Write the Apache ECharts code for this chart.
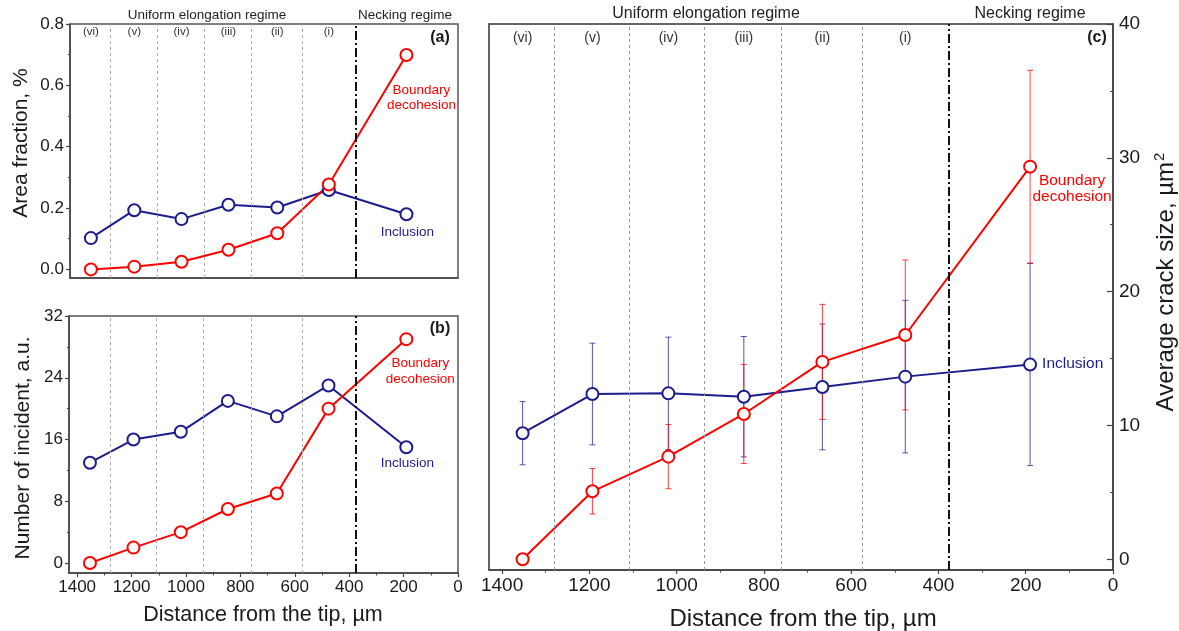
<!DOCTYPE html>
<html>
<head>
<meta charset="utf-8">
<script src="https://cdn.jsdelivr.net/npm/echarts@6/dist/echarts.min.js"></script>
<style>
  html, body { margin: 0; padding: 0; background: #fff; }
  #chart { width: 1179px; height: 631px; }
</style>
</head>
<body>
<div id="chart"></div>
<script>
// Distance from the crack tip (µm) of each sampled zone, (vi) ... (i), then the necking zone
const distance = [1353, 1193, 1019, 846, 666, 476, 190];
const zoneLabels = ['(vi)', '(v)', '(iv)', '(iii)', '(ii)', '(i)'];
const zoneBounds = [1280, 1108, 937, 761, 574];
const neckingBound = 377;

// (a) area fraction, %
const areaInclusion = [0.102, 0.193, 0.164, 0.211, 0.202, 0.259, 0.180];
const areaBoundary  = [0.000, 0.009, 0.025, 0.064, 0.118, 0.277, 0.699];

// (b) number of incidents, a.u.
const countInclusion = [13, 16, 17, 21, 19, 23, 15];
const countBoundary  = [0, 2, 4, 7, 9, 20, 29];

// (c) average crack size, µm², with its spread
const sizeInclusion    = [9.42, 12.35, 12.40, 12.15, 12.88, 13.65, 14.55];
const sizeInclusionErr = [2.36, 3.80, 4.20, 4.50, 4.70, 5.70, 7.55];
const sizeBoundary     = [0.00, 5.08, 7.67, 10.86, 14.75, 16.76, 29.34];
const sizeBoundaryErr  = [0.00, 1.70, 2.40, 3.70, 4.30, 5.60, 7.20];

// Tick values
const xTicks = [0, 200, 400, 600, 800, 1000, 1200, 1400];
const xMinorTicks = [100, 300, 500, 700, 900, 1100, 1300];
const areaTicks = [0, 0.2, 0.4, 0.6, 0.8];
const areaMinorTicks = [0.1, 0.3, 0.5, 0.7];
const countTicks = [0, 8, 16, 24, 32];
const countMinorTicks = [4, 12, 20, 28];
const sizeTicks = [0, 10, 20, 30, 40];
const sizeMinorTicks = [5, 15, 25, 35];

const FONT = '"Liberation Sans", Arial, Helvetica, sans-serif';
const RED = '#ff0000';
const BLUE = '#1c1c8c';
const AXIS = '#444';
const INK = '#1a1a1a';

const chart = echarts.init(document.getElementById('chart'), null, { renderer: 'canvas' });

function xAxes(gridIndex, withTicks, fontSize) {
  const base = {
    type: 'value', gridIndex, min: 0, max: 1430, inverse: true, position: 'bottom',
    splitLine: { show: false }
  };
  return [
    Object.assign({}, base, {
      axisLine: { show: true, onZero: false, lineStyle: { color: AXIS, width: 1.5 } },
      axisTick: { show: withTicks, customValues: xTicks, length: 4, lineStyle: { color: AXIS, width: 1.2 } },
      axisLabel: {
        show: withTicks, customValues: xTicks, margin: 6, fontSize, color: INK, fontFamily: FONT,
        formatter: v => String(v)
      }
    }),
    Object.assign({}, base, {
      axisLine: { show: false, onZero: false },
      axisTick: { show: withTicks, customValues: xMinorTicks, length: 2.5, lineStyle: { color: AXIS, width: 1 } },
      axisLabel: { show: false }
    })
  ];
}

function yAxes(gridIndex, min, max, ticks, minor, opts) {
  const base = {
    type: 'value', gridIndex, min, max, position: opts.position,
    splitLine: { show: false }
  };
  return [
    Object.assign({}, base, {
      axisLine: { show: true, onZero: false, lineStyle: { color: AXIS, width: 1.5 } },
      axisTick: { show: true, inside: opts.inside, customValues: ticks, length: opts.tickLen, lineStyle: { color: AXIS, width: 1.2 } },
      axisLabel: {
        show: true, customValues: ticks, margin: opts.margin, fontSize: opts.fontSize,
        color: INK, fontFamily: FONT, formatter: opts.formatter
      }
    }),
    Object.assign({}, base, {
      axisLine: { show: false, onZero: false },
      axisTick: { show: true, inside: opts.inside, customValues: minor, length: opts.tickLen / 2, lineStyle: { color: AXIS, width: 1 } },
      axisLabel: { show: false }
    })
  ];
}

function zoneLines(thin) {
  return {
    silent: true, animation: false, symbol: ['none', 'none'], label: { show: false },
    emphasis: { disabled: true },
    data: zoneBounds.map(v => ({ xAxis: v, lineStyle: { type: [3, 3], color: thin, width: 1 } }))
      .concat([{ xAxis: neckingBound, lineStyle: { type: [9, 3, 2, 3], color: '#111', width: 2 } }])
  };
}

function pairs(values) {
  return distance.map((d, i) => [d, values[i]]);
}

function withEndLabel(data, label) {
  const out = data.slice();
  const last = out.length - 1;
  out[last] = { value: out[last], label: Object.assign({ show: true, position: 'inside', fontFamily: FONT }, label) };
  return out;
}

function lineSeries(name, color, xi, yi, data, extra) {
  return Object.assign({
    name, type: 'line', xAxisIndex: xi, yAxisIndex: yi, data,
    symbol: 'emptyCircle', symbolSize: 12, showSymbol: true, z: 3,
    lineStyle: { color, width: 2 },
    itemStyle: { color, borderColor: color, borderWidth: 1.8 },
    emphasis: { disabled: true }
  }, extra || {});
}

function errorBars(color, xi, yi, values, errs) {
  return {
    type: 'custom', xAxisIndex: xi, yAxisIndex: yi, z: 2, silent: true,
    data: distance.map((d, i) => [d, values[i] - errs[i], values[i] + errs[i], errs[i]]),
    encode: { x: 0, y: [1, 2] },
    renderItem(params, api) {
      if (api.value(3) === 0) return null;
      const top = api.coord([api.value(0), api.value(2)]);
      const bot = api.coord([api.value(0), api.value(1)]);
      const w = 3;
      const style = { stroke: color, lineWidth: 1, opacity: 0.75 };
      return {
        type: 'group',
        children: [
          { type: 'line', shape: { x1: top[0], y1: top[1], x2: bot[0], y2: bot[1] }, style },
          { type: 'line', shape: { x1: top[0] - w, y1: top[1], x2: top[0] + w, y2: top[1] }, style },
          { type: 'line', shape: { x1: bot[0] - w, y1: bot[1], x2: bot[0] + w, y2: bot[1] }, style }
        ]
      };
    }
  };
}

const gridStyle = { show: true, borderColor: '#555', borderWidth: 1.5, backgroundColor: 'transparent' };

const option = {
  animation: false,
  backgroundColor: '#fff',
  grid: [
    Object.assign({ left: 70, top: 24, width: 388, height: 254 }, gridStyle),
    Object.assign({ left: 69, top: 316, width: 389, height: 257 }, gridStyle),
    Object.assign({ left: 489, top: 24, width: 624, height: 546 }, gridStyle, { borderColor: '#333' })
  ],
  xAxis: [].concat(
    xAxes(0, false, 17),
    xAxes(1, true, 17),
    xAxes(2, true, 19)
  ),
  yAxis: [].concat(
    yAxes(0, -0.028, 0.8, areaTicks, areaMinorTicks,
      { position: 'left', inside: false, tickLen: 4, margin: 6, fontSize: 17, formatter: v => v.toFixed(1) }),
    yAxes(1, -1.29, 32, countTicks, countMinorTicks,
      { position: 'left', inside: false, tickLen: 4, margin: 6, fontSize: 17, formatter: v => String(v) }),
    yAxes(2, -0.8, 40, sizeTicks, sizeMinorTicks,
      { position: 'right', inside: true, tickLen: 6, margin: 6, fontSize: 19, formatter: v => String(v) })
  ),
  series: [
    // (a)
    lineSeries('Inclusion', BLUE, 0, 0,
      withEndLabel(pairs(areaInclusion), { formatter: 'Inclusion', color: BLUE, fontSize: 13.5, offset: [1, 18] }),
      { markLine: zoneLines('#aaa') }),
    lineSeries('Boundary decohesion', RED, 0, 0,
      withEndLabel(pairs(areaBoundary), { formatter: 'Boundary\ndecohesion', color: RED, fontSize: 13.5, lineHeight: 15, align: 'center', offset: [15, 43] })),
    // (b)
    lineSeries('Inclusion', BLUE, 2, 2,
      withEndLabel(pairs(countInclusion), { formatter: 'Inclusion', color: BLUE, fontSize: 13.5, offset: [1, 16] }),
      { markLine: zoneLines('#aaa') }),
    lineSeries('Boundary decohesion', RED, 2, 2,
      withEndLabel(pairs(countBoundary), { formatter: 'Boundary\ndecohesion', color: RED, fontSize: 13.5, lineHeight: 16, align: 'center', offset: [14, 32] })),
    // (c)
    errorBars(BLUE, 4, 4, sizeInclusion, sizeInclusionErr),
    errorBars(RED, 4, 4, sizeBoundary, sizeBoundaryErr),
    lineSeries('Inclusion', BLUE, 4, 4,
      withEndLabel(pairs(sizeInclusion), { formatter: 'Inclusion', color: BLUE, fontSize: 15.5, align: 'left', offset: [12, -1] }),
      { markLine: zoneLines('#999') }),
    lineSeries('Boundary decohesion', RED, 4, 4,
      withEndLabel(pairs(sizeBoundary), { formatter: 'Boundary\ndecohesion', color: RED, fontSize: 15.5, lineHeight: 16, align: 'center', offset: [42, 22] }))
  ]
};

chart.setOption(option);

// Text placed around the panels
function text(str, x, y, size, extra) {
  return {
    type: 'text', x, y, silent: true,
    style: Object.assign({
      text: str, fontSize: size, fontFamily: FONT, fill: INK,
      align: 'center', verticalAlign: 'middle'
    }, extra || {})
  };
}

const graphics = [
  text('Uniform elongation regime', 207, 15, 13.5, { fill: '#222' }),
  text('Necking regime', 405, 15, 13.5, { fill: '#222' }),
  text('Uniform elongation regime', 706, 14, 16, { fill: '#222' }),
  text('Necking regime', 1030, 14, 16, { fill: '#222' }),
  text('(a)', 440, 38, 16, { fontWeight: 'bold' }),
  text('(b)', 440, 329, 16, { fontWeight: 'bold' }),
  text('(c)', 1097, 38, 16, { fontWeight: 'bold' }),
  Object.assign(text('Area fraction, %', 0, 0, 21), { x: 21, y: 143, rotation: Math.PI / 2 }),
  Object.assign(text('Number of incident, a.u.', 0, 0, 21), { x: 23, y: 448, rotation: Math.PI / 2 }),
  text('Distance from the tip, µm', 263, 615, 21.5),
  text('Distance from the tip, µm', 803, 619, 24),
  {
    type: 'text', x: 1166, y: 282, rotation: Math.PI / 2, silent: true,
    style: {
      text: 'Average crack size, µm{sup|2}', fontSize: 24, fontFamily: FONT, fill: INK,
      align: 'center', verticalAlign: 'middle',
      rich: { sup: { fontSize: 15, fontFamily: FONT, fill: INK, verticalAlign: 'top', padding: [0, 0, 12, 1] } }
    }
  }
];

// Zone labels sit above each sampled point, near the top of panels (a) and (c)
zoneLabels.forEach((lab, i) => {
  const xa = chart.convertToPixel({ xAxisIndex: 0 }, distance[i]);
  const xc = chart.convertToPixel({ xAxisIndex: 4 }, distance[i]);
  graphics.push(text(lab, xa, 32, 11.5, { fill: '#333' }));
  graphics.push(text(lab, xc, 38, 14, { fill: '#333' }));
});

chart.setOption({ graphic: graphics });
</script>
</body>
</html>
